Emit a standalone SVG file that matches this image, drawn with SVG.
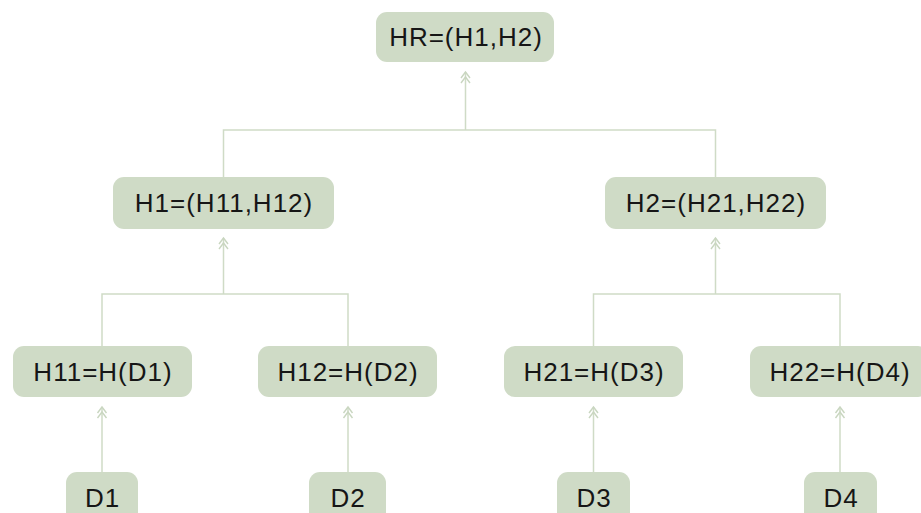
<svg xmlns="http://www.w3.org/2000/svg" width="921" height="513" viewBox="0 0 921 513">
<style>
.box{fill:#cfdbc6;}
.lbl{font-family:"Liberation Sans",Arial,sans-serif;font-size:26px;fill:#161616;text-anchor:middle;letter-spacing:1px;}
.con{fill:none;stroke:#cfdbc6;stroke-width:1.5;}
.arr{marker-end:url(#dbl);}
</style>
<defs>
<marker id="dbl" markerUnits="userSpaceOnUse" orient="auto" refX="0" refY="0" markerWidth="20" markerHeight="20" overflow="visible">
<path d="M-6,-4.5 L0,0 L-6,4.5 M-11,-4.5 L-5,0 L-11,4.5" fill="none" stroke="#c9d6c0" stroke-width="1.4"/>
</marker>
</defs>
<rect width="921" height="513" fill="#ffffff"/>
<g id="connectors">
<path class="con arr" d="M465.5,130 V72"/>
<path class="con" d="M223.5,177 V130 H715.5 V177"/>
<path class="con arr" d="M223.5,294 V238"/>
<path class="con" d="M102,346 V294 H348 V346"/>
<path class="con arr" d="M715.5,294 V238"/>
<path class="con" d="M593.5,346 V294 H840 V346"/>
<path class="con arr" d="M102,472 V407"/>
<path class="con arr" d="M348,472 V407"/>
<path class="con arr" d="M593.5,472 V407"/>
<path class="con arr" d="M840,472 V407"/>
</g>
<g id="HR"><rect class="box" x="376" y="12" width="178" height="50" rx="11"/><text class="lbl" x="466" y="46">HR=(H1,H2)</text></g>
<g id="H1"><rect class="box" x="113" y="177" width="221" height="52" rx="11"/><text class="lbl" x="224" y="212">H1=(H11,H12)</text></g>
<g id="H2"><rect class="box" x="605" y="177" width="221" height="52" rx="11"/><text class="lbl" x="716" y="212">H2=(H21,H22)</text></g>
<g id="H11"><rect class="box" x="13" y="346" width="179" height="51" rx="11"/><text class="lbl" x="103" y="381">H11=H(D1)</text></g>
<g id="H12"><rect class="box" x="258" y="346" width="179" height="51" rx="11"/><text class="lbl" x="348" y="381">H12=H(D2)</text></g>
<g id="H21"><rect class="box" x="504" y="346" width="179" height="51" rx="11"/><text class="lbl" x="594" y="381">H21=H(D3)</text></g>
<g id="H22"><rect class="box" x="750" y="346" width="179" height="51" rx="11"/><text class="lbl" x="840" y="381">H22=H(D4)</text></g>
<g id="D1"><rect class="box" x="66" y="472" width="72" height="51" rx="11"/><text class="lbl" x="102.5" y="507">D1</text></g>
<g id="D2"><rect class="box" x="309" y="472" width="77" height="51" rx="11"/><text class="lbl" x="348" y="507">D2</text></g>
<g id="D3"><rect class="box" x="557" y="472" width="73" height="51" rx="11"/><text class="lbl" x="594" y="507">D3</text></g>
<g id="D4"><rect class="box" x="804" y="472" width="73" height="51" rx="11"/><text class="lbl" x="841" y="507">D4</text></g>
</svg>
